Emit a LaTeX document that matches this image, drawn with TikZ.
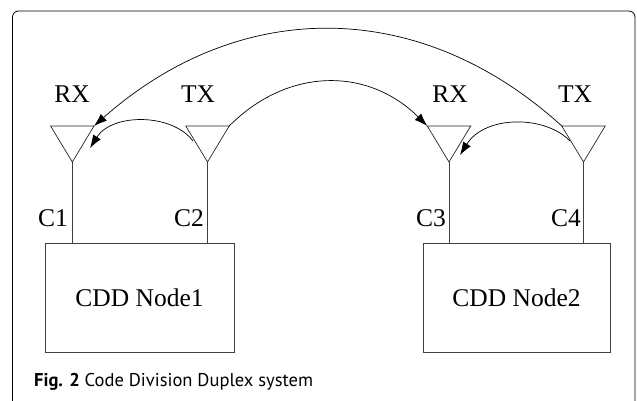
\documentclass[tikz,border=0pt]{standalone}
\usepackage{fontspec}
\setmainfont{Liberation Serif}
\newfontfamily\capfont{PT Sans}
\usetikzlibrary{arrows.meta,calc}
\begin{document}
\begin{tikzpicture}[x=1pt,y=-1pt,
  wire/.style={line width=0.7pt, draw=black!75},
  arcline/.style={line width=0.7pt, -{Latex[length=13pt,width=9pt]}},
  box/.style={draw=black!75, line width=0.7pt, minimum height=109pt, inner sep=0pt, font=\fontsize{25.5}{30}\selectfont},
  lbl/.style={font=\fontsize{25.5}{30}\selectfont, inner sep=0pt},
  ant/.style={line width=0.7pt, draw=black!85}]
\useasboundingbox (0,0) rectangle (637,400);
\fill[white] (0,0) rectangle (637,400);
\draw[line width=0.8pt, rounded corners=6pt] (12.5,403) -- (12.5,11) -- (635,11) -- (635,403);
% antennas
\foreach \n/\x in {1/72.3, 2/207.5, 3/449, 4/583.5} {
  \coordinate (a\n-l) at (\x-21.7,126);
  \coordinate (a\n-r) at (\x+21.7,126);
  \coordinate (a\n-b) at (\x,162);
  \draw[ant] (a\n-l) -- (a\n-r) -- (a\n-b) -- cycle;
}
% boxes
\node[box, minimum width=189pt] (n1) at (139.5,297.5) {CDD Node1};
\node[box, minimum width=187pt] (n2) at (516.5,297.5) {CDD Node2};
\foreach \n/\b in {1/n1, 2/n1, 3/n2, 4/n2} {
  \draw[wire] (a\n-b) -- (a\n-b |- \b.north);
}
% labels
\node[lbl, anchor=base] (rx1) at (72,102) {RX};
\node[lbl, anchor=base] (tx1) at (198,102) {TX};
\node[lbl, anchor=base] (rx2) at (450,102) {RX};
\node[lbl, anchor=base] (tx2) at (575,102) {TX};
\node[lbl, anchor=base east] (c1) at (68,226) {C1};
\node[lbl, anchor=base east] (c2) at (204,226) {C2};
\node[lbl, anchor=base east] (c3) at (446,226) {C3};
\node[lbl, anchor=base east] (c4) at (581,226) {C4};
% arc end points
\coordinate (s2) at (193,141);
\coordinate (e1) at (90,148);
\coordinate (s4) at (570,141);
\coordinate (e3) at (460,155);
% arcs
\draw[arcline] (a4-l) .. controls (420,-3) and (240,-3) .. (a1-r);
\draw[arcline] (a2-r) .. controls (288,67) and (368,67) .. (a3-l);
\draw[arcline] (s2) .. controls (172,113) and (112,113) .. (e1);
\draw[arcline] (s4) .. controls (545,115) and (485,115) .. (e3);
% caption
\node[anchor=base west, inner sep=0pt, font=\capfont\fontsize{18.5}{20}\selectfont] (cap) at (34,386) {\textbf{Fig. 2} Code Division Duplex system};
\end{tikzpicture}
\end{document}
